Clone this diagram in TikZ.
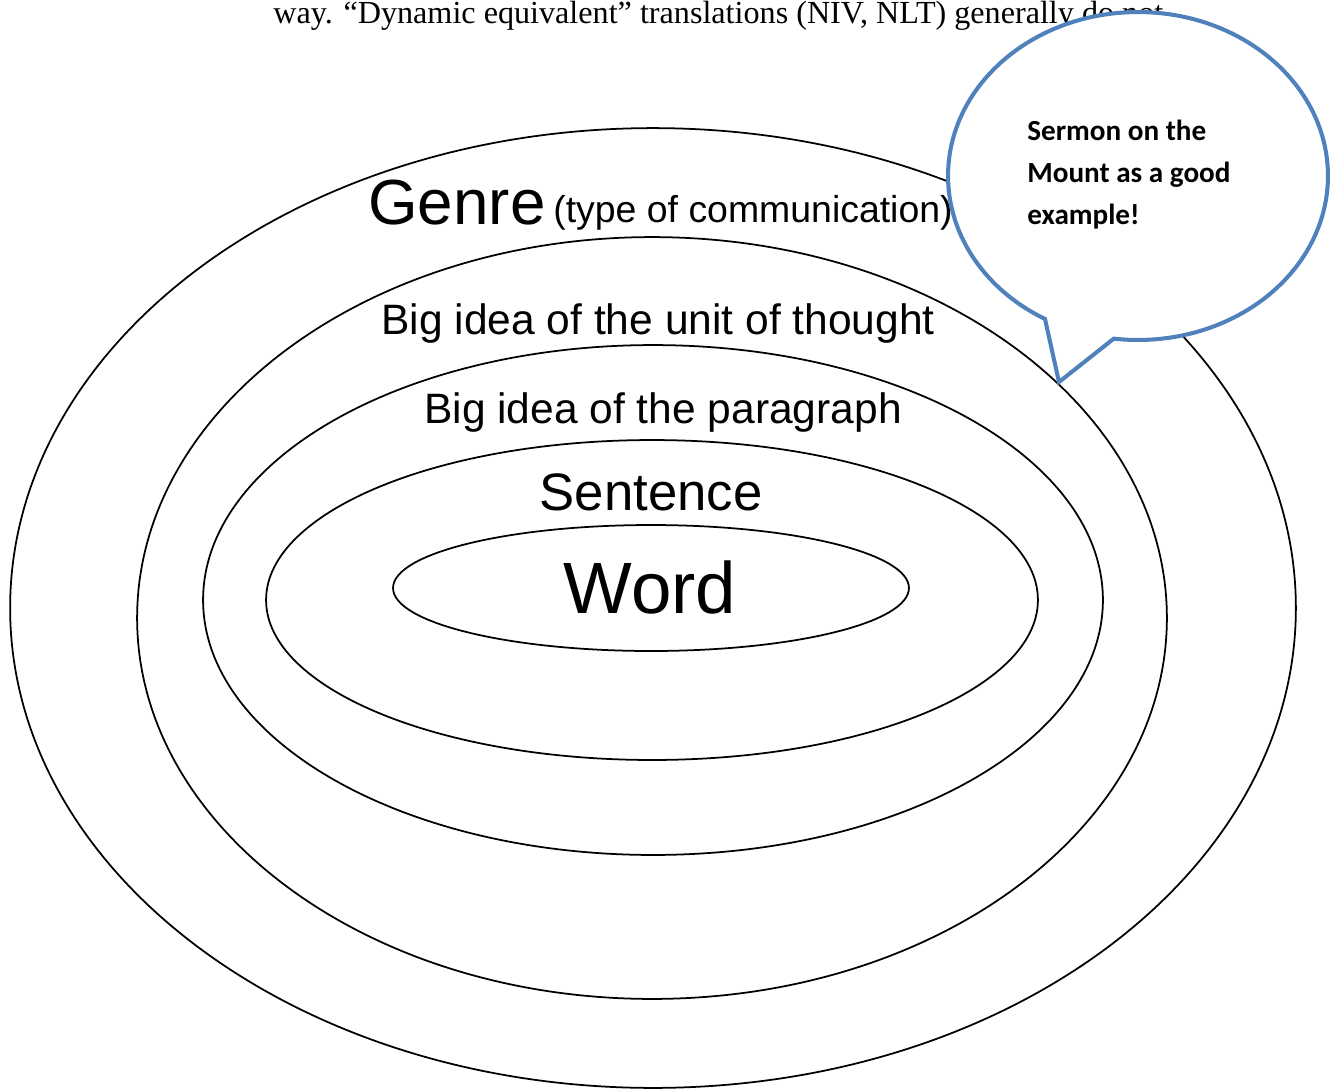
\documentclass[tikz,border=0pt]{standalone}
\usepackage{fontspec}
\setmainfont{Liberation Sans}
\newfontfamily\serifpage{Liberation Serif}
\newfontfamily\bubblefont{Carlito}
\usepackage{xcolor}
\usepackage{tikz}
\usetikzlibrary{shapes.geometric,shapes.callouts,positioning}
\definecolor{BubbleBlue}{RGB}{79,129,189}
\tikzset{
  Ring/.style={draw, ellipse, line width=1pt, inner sep=0pt},
  Lbl/.style={inner sep=0pt, anchor=base},
  Bubble/.style={draw=BubbleBlue, fill=white, ellipse callout, line width=2.3pt,
                 inner sep=0pt, minimum width=7.6cm, minimum height=6.56cm,
                 callout pointer arc=22},
  Btxt/.style={align=left, inner sep=0pt, anchor=north west,
               font=\bubblefont\bfseries\fontsize{16.6}{23.8}\selectfont}
}
\begin{document}
\begin{tikzpicture}[x=0.02cm, y=-0.02cm]
  \useasboundingbox (0,0) rectangle (1333,1090);

  \node[inner sep=0pt, anchor=base west, font=\serifpage\fontsize{18.3}{21}\selectfont]
    (pagetext) at (273,23)
    {way. “Dynamic equivalent” translations (NIV, NLT) generally do not};

  \node[Ring, minimum width=25.72cm, minimum height=19.2cm] (genre ring) at (653,608) {};
  \node[Ring, minimum width=20.6cm, minimum height=15.24cm] (unit ring) at (652,618) {};
  \node[Ring, minimum width=18.0cm, minimum height=10.2cm] (para ring) at (653,600) {};
  \node[Ring, minimum width=15.44cm, minimum height=6.4cm] (sent ring) at (652,600) {};
  \node[Ring, minimum width=10.32cm, minimum height=2.52cm] (word ring) at (651,588) {};

  \node[Lbl, anchor=base west, font=\fontsize{36.3}{40}\selectfont] (genre) at (368,224) {Genre};
  \node[Lbl, anchor=base west, font=\fontsize{21.3}{24}\selectfont] (genre type) at (553,222)
    {(type of communication)};
  \node[Lbl, font=\fontsize{24.2}{28}\selectfont] (unit) at (658,334) {Big idea of the unit of thought};
  \node[Lbl, font=\fontsize{24.2}{28}\selectfont] (para) at (663,423) {Big idea of the paragraph};
  \node[Lbl, font=\fontsize{30}{34}\selectfont] (sentence) at (651,510) {Sentence};
  \node[Lbl, font=\fontsize{41.4}{46}\selectfont] (word) at (650,613) {Word};

  \coordinate (tip) at (1059,382);
  \node[Bubble, callout absolute pointer={(tip)}] (bubble) at (1138,176) {};
  \node[Btxt] (sermon) at (1027,120) {Sermon on the\\Mount as a good\\example!};
\end{tikzpicture}
\end{document}
